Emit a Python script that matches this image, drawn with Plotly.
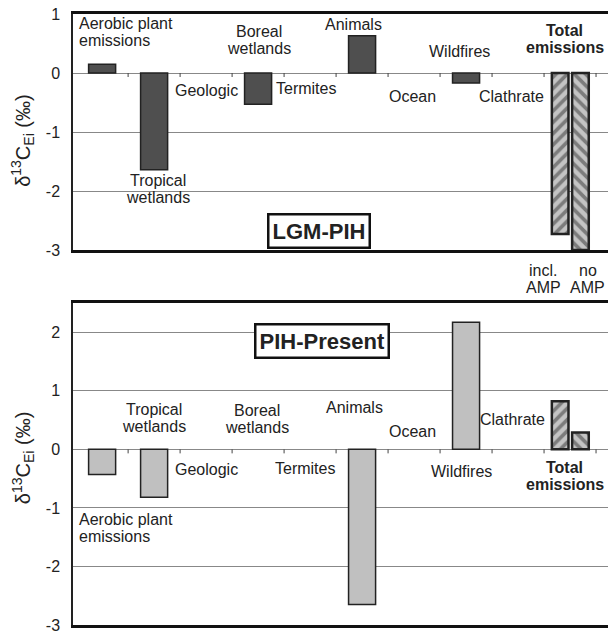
import plotly.graph_objects as go

categories = ["Aerobic plant emissions", "Tropical wetlands", "Geologic", "Boreal wetlands",
              "Termites", "Animals", "Ocean", "Wildfires", "Clathrate", "Total emissions"]
lgm_values = [0.15, -1.64, None, -0.53, None, 0.63, None, -0.17, None]
lgm_totals = [-2.73, -3.0]          # incl. AMP, no AMP
pih_values = [-0.43, -0.82, None, None, None, -2.65, None, 2.17, None]
pih_totals = [0.82, 0.29]
yticks_top = [-3, -2, -1, 0, 1]
yticks_bot = [-3, -2, -1, 0, 1, 2]
ytext_top = ["-3", "-2", "-1", "0", "1"]
ytext_bot = ["-3", "-2", "-1", "0", "1", "2"]

FONT = "Liberation Sans, Arial, sans-serif"
fig = go.Figure()

xs = list(range(len(categories) - 1))
total_x = len(categories) - 1

def add_panel(vals, totals, xa, ya, color):
    fig.add_trace(go.Bar(x=xs, y=vals, width=0.52, xaxis=xa, yaxis=ya,
                         marker=dict(color=color, line=dict(color="#222", width=1.5)),
                         showlegend=False, hoverinfo="y"))
    for t, off, shp in zip(totals, [-0.35, 0.04], ["/", "\\"]):
        fig.add_trace(go.Bar(x=[total_x], y=[t], width=0.32, offset=off, xaxis=xa, yaxis=ya,
                             marker=dict(color="#c4c4c4", line=dict(color="#222", width=2.5),
                                         pattern=dict(shape=shp, fgcolor="#333", bgcolor="#c4c4c4",
                                                      size=8, solidity=0.45)),
                             showlegend=False, hoverinfo="y"))

add_panel(lgm_values, lgm_totals, "x", "y", "#4f4f4f")
add_panel(pih_values, pih_totals, "x2", "y2", "#c0c0c0")

xr = [-0.56, 9.73]
axis_common = dict(range=xr, showgrid=False, zeroline=False, showticklabels=False,
                   showline=True, linecolor="#111", linewidth=2.5, mirror=True, ticks="")
ycommon = dict(showgrid=True, gridcolor="#888", gridwidth=1, zeroline=True, zerolinecolor="#888",
               zerolinewidth=1, showline=True, linecolor="#222", linewidth=1.5, ticks="",
               ticklabelstandoff=8, tickfont=dict(size=16, color="#222", family=FONT))

fig.update_layout(
    width=608, height=635, margin=dict(l=73, r=0, t=14, b=10),
    paper_bgcolor="white", plot_bgcolor="white", barmode="overlay",
    font=dict(family=FONT, size=16, color="#222"),
    xaxis=dict(domain=[0, 1], anchor="y", **axis_common),
    xaxis2=dict(domain=[0, 1], anchor="y2", **axis_common),
    yaxis=dict(domain=[0.6137, 1], range=[-3, 1], tickvals=yticks_top, ticktext=ytext_top,
               anchor="x", **ycommon),
    yaxis2=dict(domain=[0, 0.527], range=[-3, 2.5], tickvals=yticks_bot, ticktext=ytext_bot,
                anchor="x2", **ycommon),
)

# y-axis titles
ytitle = "δ<sup>13</sup>C<sub>Ei</sub> (‰)"
for ya, yv in [("y", -1.15), ("y2", -0.15)]:
    fig.add_annotation(xref="paper", yref=ya, x=0, xshift=-50, y=yv, text=ytitle, textangle=-90,
                       showarrow=False, xanchor="center", yanchor="middle",
                       font=dict(size=20, color="#222", family=FONT))

# tick marks along the zero line at category boundaries
for xa, ya in [("x", "y"), ("x2", "y2")]:
    for k in range(len(categories)):
        fig.add_shape(type="line", xref=xa, yref=ya, x0=k + 0.5, x1=k + 0.5,
                      ysizemode="pixel", yanchor=0, y0=0, y1=-4,
                      line=dict(color="#444", width=1))

def label(xa, ya, x, y, lines, bold=False, align="center"):
    n = len(lines)
    for i, ln in enumerate(lines):
        shift = (n - 1) / 2 * 17 - i * 17
        txt = f"<b>{ln}</b>" if bold else ln
        fig.add_annotation(xref=xa, yref=ya, x=x, y=y, text=txt, showarrow=False,
                           xanchor="left" if align == "left" else "center", yanchor="middle",
                           yshift=shift, font=dict(size=16, color="#222", family=FONT))

# top panel labels
T = ("x", "y")
label(*T, -0.48, 0.69, ["Aerobic plant", "emissions"], align="left")
label(*T, 1.08, -1.96, ["Tropical", "wetlands"])
label(*T, 2.0, -0.29, ["Geologic"])
label(*T, 3.02, 0.56, ["Boreal", "wetlands"])
label(*T, 3.93, -0.27, ["Termites"])
label(*T, 4.84, 0.83, ["Animals"])
label(*T, 5.97, -0.39, ["Ocean"])
label(*T, 6.88, 0.36, ["Wildfires"])
label(*T, 7.88, -0.39, ["Clathrate"])
label(*T, 8.9, 0.58, ["Total", "emissions"], bold=True)
# below the top panel (paper coordinates, between the panels)
label("x", "paper", 8.48, 0.5655, ["incl.", "AMP"])
label("x", "paper", 9.34, 0.5655, ["no", "AMP"])
fig.add_annotation(xref="x", yref="y", x=4.18, y=-2.68, text="<b>LGM-PIH</b>", showarrow=False,
                   font=dict(size=22, color="#222", family=FONT), bgcolor="white",
                   bordercolor="#111", borderwidth=2.5, borderpad=3)

# bottom panel labels
B = ("x2", "y2")
label(*B, 1.0, 0.53, ["Tropical", "wetlands"])
label(*B, 2.0, -0.34, ["Geologic"])
label(*B, -0.48, -1.34, ["Aerobic plant", "emissions"], align="left")
label(*B, 2.97, 0.52, ["Boreal", "wetlands"])
label(*B, 3.91, -0.32, ["Termites"])
label(*B, 4.86, 0.72, ["Animals"])
label(*B, 5.97, 0.31, ["Ocean"])
label(*B, 6.92, -0.38, ["Wildfires"])
label(*B, 7.9, 0.51, ["Clathrate"])
label(*B, 8.9, -0.45, ["Total", "emissions"], bold=True)
fig.add_annotation(xref="x2", yref="y2", x=4.22, y=1.85, text="<b>PIH-Present</b>", showarrow=False,
                   font=dict(size=22, color="#222", family=FONT), bgcolor="white",
                   bordercolor="#111", borderwidth=2.5, borderpad=3)

fig.write_html("out.html", config={"displayModeBar": False},
               post_script="document.body.style.margin='0';document.body.style.overflow='hidden';")
